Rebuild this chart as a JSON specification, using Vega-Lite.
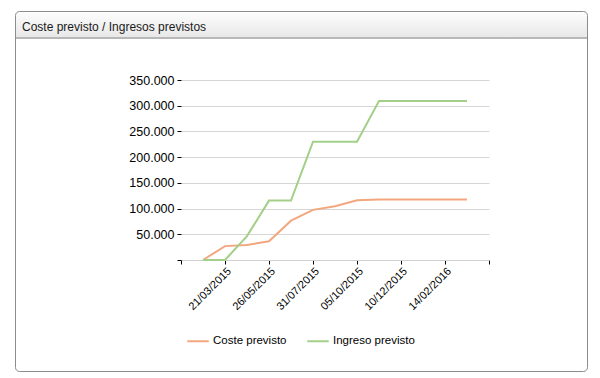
{
  "$schema": "https://vega.github.io/schema/vega-lite/v6.json",
  "width": 572,
  "height": 360,
  "autosize": "none",
  "padding": {"left": 15, "top": 11, "right": 13, "bottom": 7},
  "background": "white",
  "title": {
    "text": "Coste previsto / Ingresos previstos",
    "anchor": "start",
    "orient": "top",
    "frame": "group",
    "offset": -23,
    "dx": 7,
    "font": "Liberation Sans",
    "fontSize": 12,
    "fontWeight": "normal",
    "color": "#1a1a1a"
  },
  "config": {
    "locale": {"number": {"decimal": ",", "thousands": ".", "grouping": [3], "currency": ["", " €"]}},
    "font": "Liberation Sans",
    "view": {
      "stroke": "#8c8c8c",
      "strokeWidth": 1,
      "cornerRadius": 4,
      "fill": {
        "gradient": "linear",
        "x1": 0, "y1": 0, "x2": 0, "y2": 1,
        "stops": [
          {"offset": 0, "color": "#fdfdfd"},
          {"offset": 0.0722, "color": "#e8e8e8"},
          {"offset": 0.0722, "color": "#b8b8b8"},
          {"offset": 0.075, "color": "#b8b8b8"},
          {"offset": 0.075, "color": "#ffffff"},
          {"offset": 1, "color": "#ffffff"}
        ]
      }
    }
  },
  "data": {
    "values": [
      {"fecha": "2015-02-16", "serie": "Coste previsto", "valor": 0},
      {"fecha": "2015-03-21", "serie": "Coste previsto", "valor": 27000},
      {"fecha": "2015-04-23", "serie": "Coste previsto", "valor": 29000},
      {"fecha": "2015-05-26", "serie": "Coste previsto", "valor": 36500},
      {"fecha": "2015-06-28", "serie": "Coste previsto", "valor": 76500},
      {"fecha": "2015-07-31", "serie": "Coste previsto", "valor": 97500},
      {"fecha": "2015-09-02", "serie": "Coste previsto", "valor": 104500},
      {"fecha": "2015-10-05", "serie": "Coste previsto", "valor": 116000},
      {"fecha": "2015-11-07", "serie": "Coste previsto", "valor": 117500},
      {"fecha": "2015-12-10", "serie": "Coste previsto", "valor": 117500},
      {"fecha": "2016-01-12", "serie": "Coste previsto", "valor": 117500},
      {"fecha": "2016-02-14", "serie": "Coste previsto", "valor": 117500},
      {"fecha": "2016-03-18", "serie": "Coste previsto", "valor": 117500},
      {"fecha": "2015-02-16", "serie": "Ingreso previsto", "valor": 0},
      {"fecha": "2015-03-21", "serie": "Ingreso previsto", "valor": 0},
      {"fecha": "2015-04-23", "serie": "Ingreso previsto", "valor": 46500},
      {"fecha": "2015-05-26", "serie": "Ingreso previsto", "valor": 115500},
      {"fecha": "2015-06-28", "serie": "Ingreso previsto", "valor": 115500},
      {"fecha": "2015-07-31", "serie": "Ingreso previsto", "valor": 230000},
      {"fecha": "2015-09-02", "serie": "Ingreso previsto", "valor": 230000},
      {"fecha": "2015-10-05", "serie": "Ingreso previsto", "valor": 230000},
      {"fecha": "2015-11-07", "serie": "Ingreso previsto", "valor": 309000},
      {"fecha": "2015-12-10", "serie": "Ingreso previsto", "valor": 309000},
      {"fecha": "2016-01-12", "serie": "Ingreso previsto", "valor": 309000},
      {"fecha": "2016-02-14", "serie": "Ingreso previsto", "valor": 309000},
      {"fecha": "2016-03-18", "serie": "Ingreso previsto", "valor": 309000}
    ]
  },
  "mark": {"type": "line", "strokeWidth": 2},
  "encoding": {
    "x": {
      "field": "fecha",
      "type": "temporal",
      "scale": {
        "type": "utc",
        "domain": [
          {"year": 2015, "month": 1, "date": 14, "utc": true},
          {"year": 2016, "month": 4, "date": 20, "utc": true}
        ],
        "range": [166, 474]
      },
      "axis": {
        "title": null,
        "offset": -111,
        "grid": false,
        "values": [
          {"year": 2015, "month": 1, "date": 14, "utc": true},
          {"year": 2015, "month": 3, "date": 21, "utc": true},
          {"year": 2015, "month": 5, "date": 26, "utc": true},
          {"year": 2015, "month": 7, "date": 31, "utc": true},
          {"year": 2015, "month": 10, "date": 5, "utc": true},
          {"year": 2015, "month": 12, "date": 10, "utc": true},
          {"year": 2016, "month": 2, "date": 14, "utc": true},
          {"year": 2016, "month": 4, "date": 20, "utc": true}
        ],
        "labelExpr": "(datum.value < datetime(2015,1,1) || datum.value > datetime(2016,3,1)) ? '' : utcFormat(datum.value, '%d/%m/%Y')",
        "labelAngle": -45,
        "labelAlign": "right",
        "labelBaseline": "top",
        "labelFont": "Liberation Sans",
        "labelFontSize": 11,
        "labelColor": "#000000",
        "labelPadding": 1,
        "labelOverlap": false,
        "labelBound": false,
        "labelFlush": false,
        "domainColor": "#d0d0d0",
        "domainWidth": 1,
        "tickColor": "#000000",
        "tickSize": 4,
        "tickWidth": 1
      }
    },
    "y": {
      "field": "valor",
      "type": "quantitative",
      "scale": {"domain": [0, 350000], "range": [249, 69], "nice": false, "zero": true},
      "axis": {
        "title": null,
        "offset": -166,
        "domain": false,
        "values": [0, 50000, 100000, 150000, 200000, 250000, 300000, 350000],
        "labelExpr": "datum.value == 0 ? '' : format(datum.value, ',d')",
        "labelFont": "Liberation Sans",
        "labelFontSize": 12.5,
        "labelColor": "#000000",
        "labelPadding": 3,
        "tickColor": "#000000",
        "tickSize": 4,
        "gridColor": "#d6d6d6",
        "gridWidth": 1
      }
    },
    "color": {
      "field": "serie",
      "type": "nominal",
      "scale": {"domain": ["Coste previsto", "Ingreso previsto"], "range": ["#f3a77f", "#a3cf88"]},
      "legend": {
        "title": null,
        "orient": "none",
        "legendX": 171,
        "legendY": 318,
        "direction": "horizontal",
        "symbolType": "stroke",
        "symbolSize": 460,
        "symbolStrokeWidth": 2,
        "labelFont": "Liberation Sans",
        "labelFontSize": 11.5,
        "labelColor": "#000000",
        "labelOffset": 3,
        "columnPadding": 16
      }
    }
  }
}
